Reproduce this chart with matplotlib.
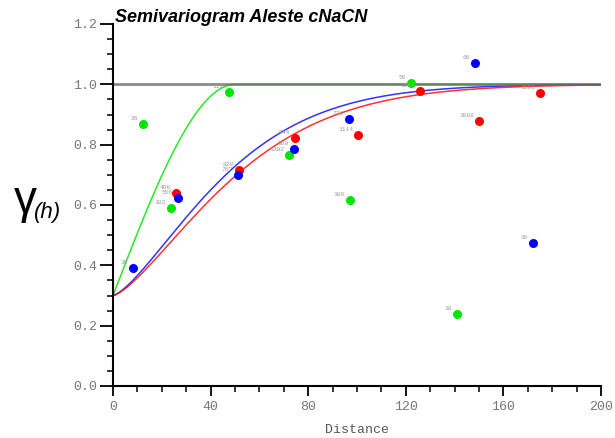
import numpy as np
import matplotlib
matplotlib.use("Agg")
import matplotlib.pyplot as plt
from matplotlib.ticker import MultipleLocator, FormatStrFormatter

# Experimental semivariogram points (three directions)
green_h = [12.3, 47.5, 23.8, 72.1, 97.1, 122.1, 141.0]
green_g = [0.868, 0.975, 0.590, 0.766, 0.617, 1.004, 0.239]
green_n = ["26", "111", "182", "1302", "106", "56", "18"]

red_h = [25.8, 51.6, 74.6, 100.4, 125.8, 150.0, 175.0]
red_g = [0.640, 0.716, 0.822, 0.832, 0.978, 0.878, 0.971]
red_n = ["466", "820", "944", "1114", "1204", "1088", "1192"]

blue_h = [8.2, 26.6, 51.2, 74.2, 96.7, 148.4, 172.1]
blue_g = [0.391, 0.623, 0.699, 0.786, 0.885, 1.071, 0.474]
blue_n = ["30", "556", "762", "960", "776", "66", "16"]

# Fitted model parameters
nugget = 0.3
sill = 1.0
green_range = 50.0                   # spherical
red_range, red_shape = 125.0, 1.4    # stable
blue_range, blue_shape = 114.0, 1.4  # stable

GREEN = "#00e600"
RED = "#ff0000"
BLUE = "#0000ff"


def spherical(h, a):
    r = np.clip(h / a, 0, 1)
    return nugget + (sill - nugget) * (1.5 * r - 0.5 * r ** 3)


def stable(h, a, s):
    return nugget + (sill - nugget) * (1 - np.exp(-3 * (h / a) ** s))


fig = plt.figure(figsize=(6.15, 4.38), dpi=100)
ax = fig.add_axes([113 / 615, 1 - 386 / 438, 488 / 615, 362 / 438])

hh = np.linspace(0, 200, 600)
ax.plot(hh, spherical(hh, green_range), color=GREEN, lw=1.1, zorder=2, alpha=0.85)
ax.plot(hh, stable(hh, blue_range, blue_shape), color=BLUE, lw=1.1, zorder=2, alpha=0.8)
ax.plot(hh, stable(hh, red_range, red_shape), color=RED, lw=1.1, zorder=2, alpha=0.8)
# sill reference line
ax.axhline(sill, color="#6e6e6e", alpha=0.8, lw=2.0, zorder=2.5)

for hs, gs, ns, col in [(green_h, green_g, green_n, GREEN),
                        (red_h, red_g, red_n, RED),
                        (blue_h, blue_g, blue_n, BLUE)]:
    ax.plot(hs, gs, "o", color=col, ms=6.5, mec="none", zorder=3)
    for h, g, n in zip(hs, gs, ns):
        ax.annotate(n, (h, g), xytext=(-3.5, 2), textcoords="offset points",
                    ha="right", va="bottom", fontsize=4.5, color="#9a9a9a",
                    family="Liberation Mono", zorder=4)

ax.set_xlim(0, 200)
ax.set_ylim(0, 1.2)
for side in ("top", "right"):
    ax.spines[side].set_visible(False)
for side in ("left", "bottom"):
    ax.spines[side].set_linewidth(1.5)

ax.xaxis.set_major_locator(MultipleLocator(40))
ax.xaxis.set_minor_locator(MultipleLocator(10))
ax.yaxis.set_major_locator(MultipleLocator(0.2))
ax.yaxis.set_minor_locator(MultipleLocator(0.05))
ax.yaxis.set_major_formatter(FormatStrFormatter("%.1f"))
ax.tick_params(which="both", direction="out", labelsize=9.5,
               labelcolor="#777777")
ax.tick_params(axis="x", which="major", length=7, width=1.3, pad=4)
ax.tick_params(axis="x", which="minor", length=4, width=1.1)
ax.tick_params(axis="y", which="major", length=9.5, width=1.3, pad=2)
ax.tick_params(axis="y", which="minor", length=4.5, width=1.1)
for lab in ax.get_xticklabels() + ax.get_yticklabels():
    lab.set_family("Liberation Mono")

ax.set_xlabel("Distance", family="Liberation Mono", fontsize=9.5,
              color="#555555", labelpad=8)

fig.text(115 / 615, 1 - 17 / 438, "Semivariogram Aleste cNaCN", fontsize=13,
         fontweight="bold", fontstyle="italic", family="Liberation Sans",
         ha="left", va="center")
fig.text(25 / 615, 1 - 201 / 438, "γ", fontsize=33, family="Liberation Sans",
         ha="center", va="center")
fig.text(48 / 615, 1 - 213 / 438, "(h)", fontsize=16, fontstyle="italic",
         family="Liberation Sans", ha="center", va="center")

fig.savefig("out.png", dpi=100)
